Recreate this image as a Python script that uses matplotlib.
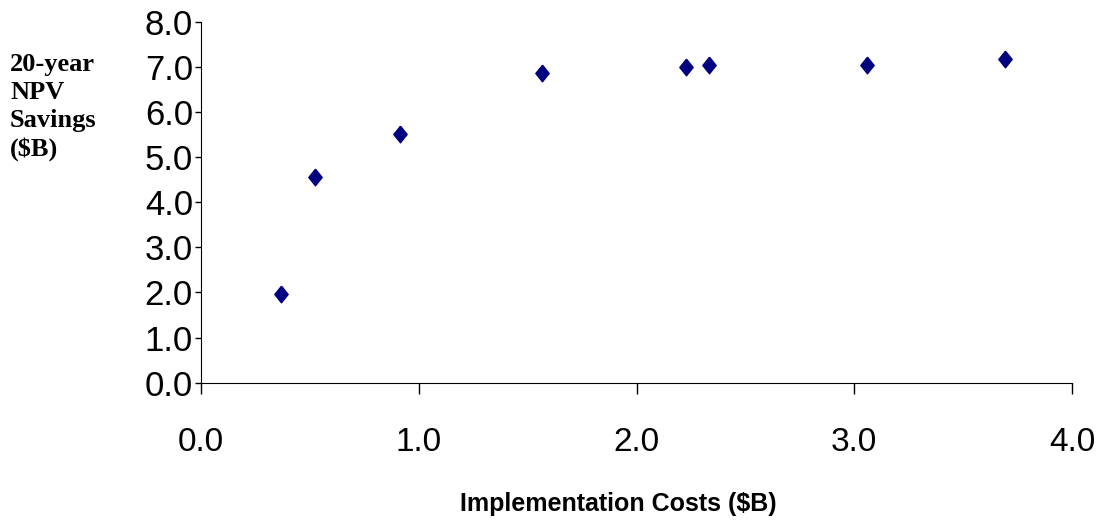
import matplotlib
matplotlib.use('Agg')
import matplotlib.pyplot as plt

# implementation cost vs 20-year NPV savings, both in $B
costs = [0.366, 0.523, 0.914, 1.565, 2.227, 2.332, 3.057, 3.692]
savings = [1.96, 4.56, 5.52, 6.86, 6.99, 7.03, 7.03, 7.17]

x_ticks = [0.0, 1.0, 2.0, 3.0, 4.0]
y_ticks = [0.0, 1.0, 2.0, 3.0, 4.0, 5.0, 6.0, 7.0, 8.0]

fig = plt.figure(figsize=(11.12, 5.22), dpi=100)
ax = fig.add_axes([0.1808, 0.2668, 0.9640 - 0.1808, 0.9584 - 0.2668])

diamond = [(0, 1), (0.8, 0), (0, -1), (-0.8, 0), (0, 1)]
ax.plot(costs, savings, linestyle='none', marker=diamond, markersize=12,
        color='#000080', markeredgecolor='#000080')

ax.set_xlim(0, 4)
ax.set_ylim(0, 8)
ax.set_xticks(x_ticks)
ax.set_yticks(y_ticks)
ax.set_xticklabels(['%.1f' % v for v in x_ticks], fontsize=24, family='Liberation Sans')
ax.set_yticklabels(['%.1f' % v for v in y_ticks], fontsize=25, family='Liberation Sans')
ax.tick_params(axis='x', direction='out', length=7.7, width=1, pad=24)
ax.tick_params(axis='y', direction='out', length=4.3, width=1, pad=1.5)

ax.spines['top'].set_visible(False)
ax.spines['right'].set_visible(False)

fig.text(0.5558, 0.021, 'Implementation Costs ($B)', ha='center', va='baseline',
         fontsize=18, fontweight='bold', family='Liberation Sans')
fig.text(0.009, 0.899, '20-year\nNPV\nSavings\n($B)', ha='left', va='top',
         fontsize=19, fontweight='bold', family='Liberation Serif', linespacing=1.28)

fig.savefig('out.png', dpi=100)
